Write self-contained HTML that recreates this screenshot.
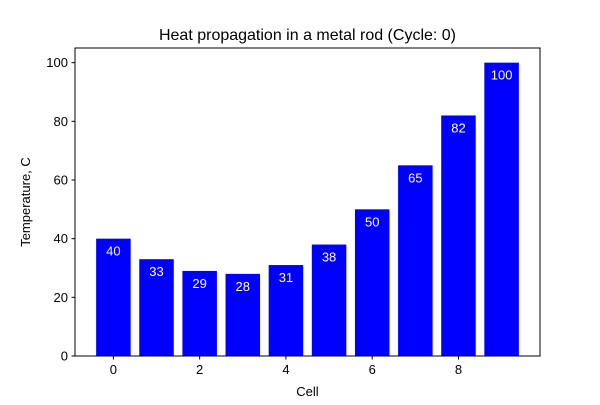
<!DOCTYPE html>
<html><head><meta charset="utf-8"><style>
body{margin:0;background:#fff;}
svg{font-family:"Liberation Sans","DejaVu Sans",sans-serif;}
</style></head><body>
<svg id="chart" width="600" height="400"></svg>
<script>
const categories=[0,1,2,3,4,5,6,7,8,9];
const temps=[40,33,29,28,31,38,50,65,82,100];
const xTicks=[0,2,4,6,8];
const yTicks=[0,20,40,60,80,100];
const L=75,R=540,T=48,B=356;
const xMin=-0.89,xMax=9.89,yMin=0,yMax=105;
const xs=v=>L+(v-xMin)/(xMax-xMin)*(R-L);
const ys=v=>B-(v-yMin)/(yMax-yMin)*(B-T);
const NS="http://www.w3.org/2000/svg";
const svg=document.getElementById('chart');
function mk(tag,attrs,parent){const e=document.createElementNS(NS,tag);for(const k in attrs)e.setAttribute(k,attrs[k]);(parent||svg).appendChild(e);return e;}
const bars=mk('g',{});


categories.forEach((c,i)=>{
  const x0=xs(c-0.4),x1=xs(c+0.4),y0=ys(temps[i]);
  const r=mk('rect',{x:x0,y:y0,width:x1-x0,height:B-y0,fill:'#0000ff'},bars);
  
  
  const t=mk('text',{x:xs(c),y:y0+17,'text-anchor':'middle','font-size':'13',fill:'#fff'},bars);
  t.textContent=temps[i];
  
  
});
const frame=mk('rect',{x:L,y:T,width:R-L,height:B-T,fill:'none',stroke:'#000','stroke-width':1});


xTicks.forEach(v=>{
  const x=xs(v);
  mk('line',{x1:x,x2:x,y1:B,y2:B+3.5,stroke:'#000'});
  const t=mk('text',{x:x,y:B+18,'text-anchor':'middle','font-size':'13'});
  t.textContent=v;
  
  
});
yTicks.forEach(v=>{
  const y=ys(v);
  mk('line',{x1:L-3.5,x2:L,y1:y,y2:y,stroke:'#000'});
  const t=mk('text',{x:L-7,y:y+4.5,'text-anchor':'end','font-size':'13'});
  t.textContent=v;
  
  
});
const xt=mk('text',{x:(L+R)/2,y:396,'text-anchor':'middle','font-size':'13'});
xt.textContent='Cell';


const yt=mk('text',{x:0,y:0,'text-anchor':'middle','font-size':'13',transform:'translate(30,'+((T+B)/2)+') rotate(-90)'});
yt.textContent='Temperature, C';


const tt=mk('text',{x:(L+R)/2,y:40,'text-anchor':'middle','font-size':'16'});
tt.textContent='Heat propagation in a metal rod (Cycle: 0)';


</script>
</body></html>
